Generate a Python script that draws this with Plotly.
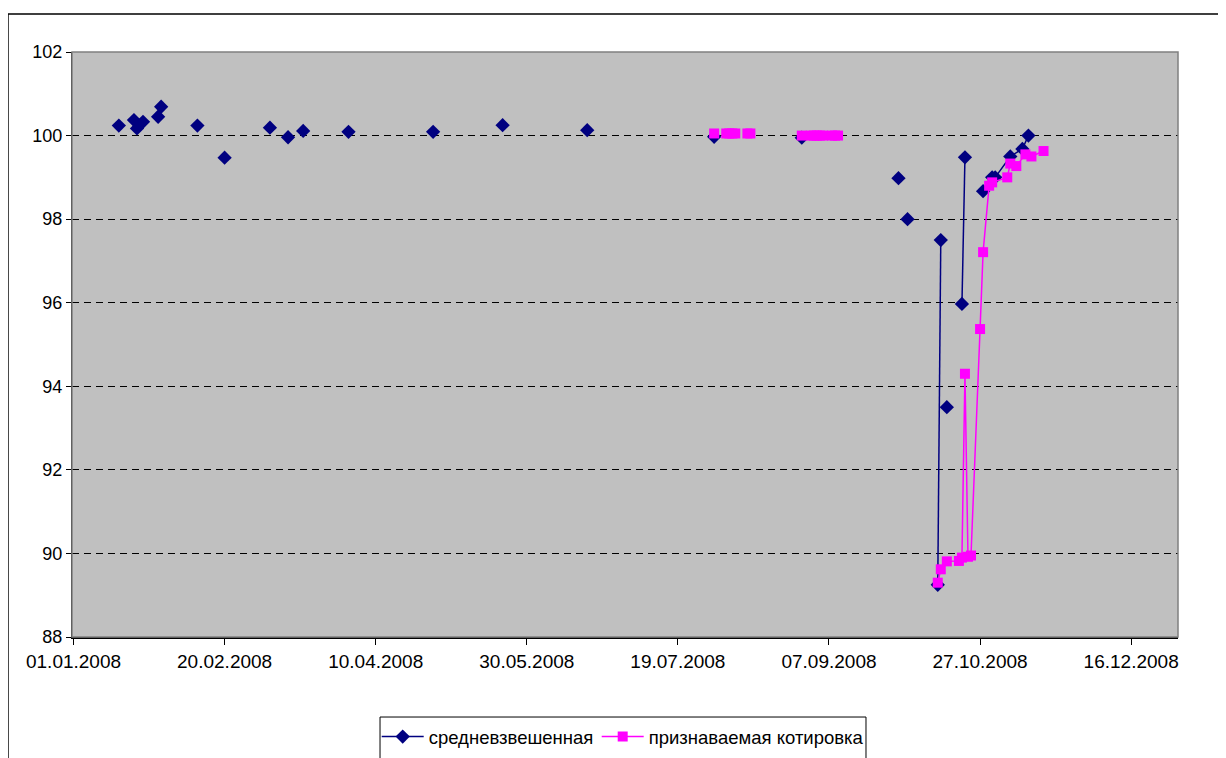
import plotly.graph_objects as go

# ---- data (None = no quote that day -> break in the line) ----
navy_dates = [
    "2008-01-16", None, "2008-01-21", None, "2008-01-22", None, "2008-01-24", None,
    "2008-01-29", None, "2008-01-30", None, "2008-02-11", None, "2008-02-20", None,
    "2008-03-06", None, "2008-03-12", None, "2008-03-17", None, "2008-04-01", None,
    "2008-04-29", None, "2008-05-22", None, "2008-06-19", None, "2008-07-31", None,
    "2008-08-29", None, "2008-09-30", None, "2008-10-03", None,
    "2008-10-13", "2008-10-14", None, "2008-10-16", None,
    "2008-10-21", "2008-10-22", None,
    "2008-10-28", "2008-10-31", "2008-11-01", "2008-11-06", "2008-11-10", "2008-11-12",
]
navy_vals = [
    100.24, None, 100.37, None, 100.17, None, 100.33, None,
    100.45, None, 100.69, None, 100.24, None, 99.47, None,
    100.19, None, 99.96, None, 100.11, None, 100.09, None,
    100.09, None, 100.25, None, 100.13, None, 99.97, None,
    99.95, None, 98.98, None, 98.0, None,
    89.25, 97.5, None, 93.5, None,
    95.97, 99.48, None,
    98.67, 99.0, 99.0, 99.5, 99.68, 100.0,
]

pink_dates = [
    "2008-07-31", None,
    "2008-08-04", "2008-08-05", "2008-08-06", "2008-08-07", None,
    "2008-08-11", "2008-08-12", None,
    "2008-08-29", "2008-09-01", "2008-09-02", "2008-09-03", "2008-09-04", "2008-09-05",
    "2008-09-08", "2008-09-09", "2008-09-10", None,
    "2008-10-13", "2008-10-14", "2008-10-16", "2008-10-20", "2008-10-21", "2008-10-22",
    "2008-10-23", "2008-10-24", "2008-10-27", "2008-10-28", "2008-10-30", "2008-10-31",
    "2008-11-05", "2008-11-06", "2008-11-08", "2008-11-11", "2008-11-13", "2008-11-17",
]
pink_vals = [
    100.05, None,
    100.05, 100.05, 100.05, 100.05, None,
    100.05, 100.05, None,
    100.0, 100.0, 100.0, 100.0, 100.0, 100.0,
    100.0, 100.0, 100.0, None,
    89.30, 89.62, 89.81, 89.82, 89.90, 94.30,
    89.92, 89.95, 95.37, 97.21, 98.80, 98.88,
    99.0, 99.33, 99.27, 99.55, 99.50, 99.63,
]

series_names = ["средневзвешенная", "признаваемая котировка"]
y_ticks = [88, 90, 92, 94, 96, 98, 100, 102]

FONT = "Liberation Sans, Arial, sans-serif"

fig = go.Figure()
fig.add_trace(go.Scatter(
    x=navy_dates, y=navy_vals, name=series_names[0], mode="lines+markers",
    line=dict(color="#000080", width=1.5),
    marker=dict(symbol="diamond", size=11, color="#000080"),
    connectgaps=False, legendwidth=163,
))
fig.add_trace(go.Scatter(
    x=pink_dates, y=pink_vals, name=series_names[1], mode="lines+markers",
    line=dict(color="#FF00FF", width=1.5),
    marker=dict(symbol="square", size=10, color="#FF00FF"),
    connectgaps=False,
))

# outer chart frame
fig.add_shape(type="rect", xref="paper", yref="paper",
              x0=-0.0579, x1=1.0398, y0=-0.4, y1=1.065,
              line=dict(color="black", width=1.5), fillcolor="rgba(0,0,0,0)", layer="below")
# legend frame
fig.add_shape(type="rect", xref="paper", yref="paper",
              x0=0.2785, x1=0.7179, y0=-0.4, y1=-0.1368,
              line=dict(color="black", width=1), fillcolor="white", layer="below")
# plot-area border (gray)
fig.add_shape(type="rect", xref="paper", yref="paper",
              x0=0, x1=1, y0=0, y1=1,
              line=dict(color="#808080", width=1.5), fillcolor="rgba(0,0,0,0)")

fig.update_layout(
    width=1218, height=790,
    margin=dict(l=64, r=48, t=44, b=161),
    paper_bgcolor="white", plot_bgcolor="#C0C0C0",
    font=dict(family=FONT, size=19, color="black"),
    showlegend=True,
    legend=dict(orientation="h", x=0.2755, xanchor="left", y=-0.1385, yanchor="top",
                borderwidth=0, bgcolor="rgba(0,0,0,0)", itemwidth=42,
                font=dict(family=FONT, size=18.5)),
    xaxis=dict(
        type="date", range=["2007-12-31 12:00", "2008-12-31 12:00"],
        tick0="2008-01-01", dtick=50 * 86400000, tickformat="%d.%m.%Y",
        ticks="outside", ticklen=6, tickcolor="black",
        showline=True, linecolor="black", linewidth=1.5,
        showgrid=False, zeroline=False, tickfont=dict(size=19),
    ),
    yaxis=dict(
        range=[88, 102], tickvals=y_ticks,
        ticks="outside", ticklen=5, tickcolor="black",
        showline=True, linecolor="black", linewidth=1,
        showgrid=True, gridcolor="black", gridwidth=1, griddash="7px,5px",
        zeroline=False, tickfont=dict(size=18),
    ),
)

fig.write_html("out.html")
